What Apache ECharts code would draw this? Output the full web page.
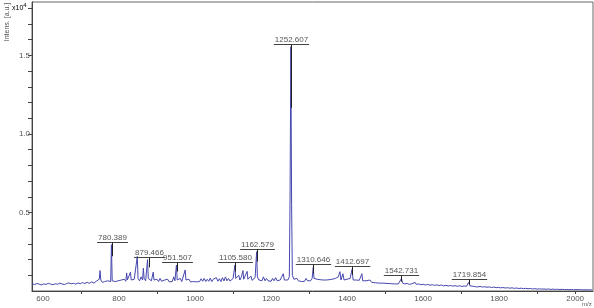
<!DOCTYPE html>
<html>
<head>
<meta charset="utf-8">
<script src="https://cdn.jsdelivr.net/npm/echarts@6/dist/echarts.min.js"></script>
<style>
html,body{margin:0;padding:0;background:#fff;}
#chart{width:594px;height:308px;}
</style>
</head>
<body>
<div id="chart"></div>
<script>
// Spectrum: [m/z, intensity (x10^4 a.u.)]
const spectrum = [
[572,.046],[578,.041],[584,.048],[590,.043],[596,.039],[602,.045],[608,.042],[614,.049],[620,.044],[626,.040],
[632,.046],[638,.043],[644,.050],[650,.045],[656,.041],[662,.047],[668,.052],[674,.046],[680,.049],[686,.044],
[692,.051],[698,.047],[704,.053],[710,.048],[716,.055],[722,.049],[728,.058],[734,.050],[740,.062],[744,.052],
[748,.075],[750,.13],[752,.07],[756,.055],[762,.06],[766,.052],[770,.065],[774,.055],[778,.06],[780,.295],
[782,.065],[786,.055],[790,.06],[794,.055],[798,.065],[802,.058],[806,.07],[810,.06],[814,.075],[818,.062],
[820,.115],[822,.07],[826,.065],[830,.12],[832,.07],[836,.06],[840,.075],[844,.065],[848,.22],[850,.08],
[854,.065],[858,.09],[862,.07],[864,.145],[866,.08],[870,.065],[875,.2],[877,.08],[881,.07],[885,.065],
[890,.12],[892,.07],[896,.06],[900,.075],[904,.06],[908,.08],[912,.062],[916,.058],[920,.07],[924,.06],
[928,.075],[932,.058],[936,.065],[940,.06],[944,.09],[947,.065],[951,.165],[953,.07],[957,.06],[961,.08],
[965,.06],[970,.07],[974,.134],[976,.07],[980,.06],[984,.075],[988,.058],[992,.07],[996,.06],[1000,.072],
[1004,.058],[1008,.07],[1012,.06],[1016,.078],[1020,.062],[1024,.08],[1028,.06],[1032,.075],[1036,.062],[1040,.082],
[1044,.06],[1048,.075],[1052,.063],[1056,.085],[1060,.062],[1064,.078],[1068,.06],[1072,.085],[1076,.064],[1080,.09],
[1084,.065],[1088,.08],[1092,.063],[1096,.075],[1100,.08],[1105,.165],[1107,.08],[1111,.07],[1115,.1],[1118,.07],
[1122,.09],[1126,.13],[1128,.075],[1132,.07],[1137,.125],[1139,.075],[1143,.07],[1147,.095],[1150,.068],[1154,.07],
[1158,.085],[1162,.25],[1164,.09],[1168,.07],[1172,.08],[1176,.065],[1180,.09],[1184,.065],[1188,.08],[1192,.065],
[1196,.075],[1200,.062],[1204,.08],[1208,.065],[1212,.085],[1216,.065],[1220,.075],[1224,.07],[1228,.09],[1232,.11],
[1235,.07],[1240,.065],[1244,.07],[1248,.09],[1250,.6],[1252,1.555],[1254,.55],[1256,.1],[1260,.075],[1264,.068],
[1268,.08],[1272,.065],[1276,.075],[1280,.06],[1284,.07],[1288,.062],[1292,.08],[1296,.065],[1300,.075],[1304,.065],
[1308,.08],[1311,.15],[1313,.08],[1317,.07],[1321,.075],[1325,.065],[1329,.072],[1333,.065],[1337,.07],[1341,.062],
[1345,.07],[1349,.065],[1353,.072],[1357,.06],[1361,.075],[1365,.065],[1369,.08],[1373,.068],[1377,.09],[1381,.123],
[1384,.07],[1389,.11],[1392,.07],[1396,.065],[1400,.075],[1404,.065],[1408,.08],[1413,.137],[1416,.07],[1420,.065],
[1424,.07],[1428,.06],[1432,.068],[1436,.07],[1439,.11],[1441,.065],[1446,.06],[1450,.065],[1455,.055],[1460,.07],
[1465,.055],[1470,.065],[1475,.052],[1480,.06],[1485,.05],[1490,.058],[1495,.05],[1500,.055],[1505,.048],[1510,.055],
[1515,.047],[1520,.052],[1525,.045],[1530,.05],[1535,.045],[1540,.055],[1543,.08],[1546,.05],[1552,.045],[1558,.048],
[1564,.042],[1570,.046],[1575,.043],[1579,.055],[1582,.042],[1588,.045],[1594,.04],[1600,.043],[1606,.038],[1612,.042],
[1618,.037],[1624,.04],[1630,.036],[1636,.039],[1642,.035],[1648,.038],[1654,.033],[1660,.036],[1666,.032],[1672,.035],
[1678,.031],[1684,.034],[1690,.03],[1696,.033],[1702,.029],[1708,.032],[1714,.03],[1717,.035],[1720,.055],[1723,.033],
[1728,.028],[1732,.03],[1738,.027],[1744,.026],[1750,.029],[1756,.025],[1762,.027],[1768,.024],[1774,.026],[1780,.022],
[1786,.025],[1792,.021],[1798,.023],[1804,.02],[1810,.022],[1816,.019],[1822,.021],[1828,.018],[1834,.02],[1840,.017],
[1846,.019],[1852,.016],[1858,.018],[1864,.015],[1870,.017],[1876,.014],[1882,.016],[1888,.013],[1894,.015],[1900,.012],
[1906,.014],[1912,.012],[1918,.013],[1924,.011],[1930,.013],[1936,.01],[1942,.012],[1948,.01],[1954,.011],[1960,.009],
[1966,.011],[1972,.009],[1978,.01],[1984,.008],[1990,.01],[1996,.008],[2002,.009],[2008,.008],[2014,.009],[2020,.007],
[2026,.008],[2032,.007],[2038,.008],[2044,.007]
];

// Annotated peaks (m/z labels)
const peakLabels = ['780.389','879.466','951.507','1105.580','1162.579','1252.607','1310.646','1412.697','1542.731','1719.854'];

// Axis ticks
const xLabelValues = [600,800,1000,1200,1400,1600,1800,2000];
const xTickValues = [700,900,1100,1300,1500,1700,1900,2000];
const yLabelValues = [0.5,1.0,1.5];
const yTickValues = [0.1,0.2,0.3,0.4,0.5,0.6,0.7,0.8,0.9,1.0,1.1,1.2,1.3,1.4,1.5,1.6,1.7,1.8];

const FONT = '"Liberation Sans", Arial, sans-serif';

// find local max intensity near each label m/z
function peakHeight(mz){
  let best = 0;
  for (const [x,y] of spectrum){ if (Math.abs(x-mz) <= 5 && y > best) best = y; }
  return best;
}
const labelData = peakLabels.map(t => [parseFloat(t), peakHeight(parseFloat(t)), t]);

const measureCtx = document.createElement('canvas').getContext('2d');
measureCtx.font = '8px ' + FONT;

const chart = echarts.init(document.getElementById('chart'), null, {renderer:'canvas'});
chart.setOption({
  animation: false,
  backgroundColor: '#fff',
  grid: {left: 32, right: 1, top: 2, bottom: 17, show: true, borderColor: '#666', borderWidth: 1, backgroundColor: 'transparent'},
  xAxis: {
    type: 'value', min: 571, max: 2047,
    axisLine: {show: true, onZero: false, lineStyle: {color: '#444', width: 1}},
    splitLine: {show: false},
    axisTick: {show: true, length: 3, customValues: xTickValues, lineStyle: {color: '#444'}},
    axisLabel: {customValues: xLabelValues, fontSize: 8, color: '#555', margin: 4, fontFamily: FONT,
      formatter: v => String(v)},
    minorTick: {show: false}
  },
  yAxis: {
    type: 'value', min: 0, max: 1.84,
    axisLine: {show: true, lineStyle: {color: '#444', width: 1}},
    splitLine: {show: false},
    axisTick: {show: true, length: 4, customValues: yTickValues, lineStyle: {color: '#444'}},
    axisLabel: {customValues: yLabelValues, fontSize: 8, color: '#555', margin: 2, fontFamily: FONT,
      formatter: v => v.toFixed(1)}
  },
  graphic: [
    {type: 'text', x: 7, y: 22, rotation: Math.PI/2, style: {text: 'Intens. [a.u.]', font: '7px ' + FONT, fill: '#555', align: 'center', verticalAlign: 'middle'}},
    {type: 'text', x: 12, y: 2, style: {text: '{a|x10}{b|4}', rich: {a: {fontSize: 7, fontFamily: FONT, color: '#444', padding: [3,0,0,0]}, b: {fontSize: 6, fontFamily: FONT, color: '#444', verticalAlign: 'top'}}}},
    {type: 'text', x: 582, y: 301, style: {text: 'm/z', font: '6px ' + FONT, fill: '#555'}}
  ],
  series: [
    {
      type: 'line', data: spectrum, showSymbol: false, symbol: 'none',
      lineStyle: {color: '#4646ae', width: 1}, smooth: false, z: 2
    },
    {
      type: 'custom', data: labelData, z: 5, clip: false,
      renderItem: function(params, api){
        const mz = api.value(0), h = api.value(1);
        const text = labelData[params.dataIndex][2];
        const p = api.coord([mz, h]);
        const z0 = api.coord([mz, 0]);
        const uy = Math.round(p[1] - 3) + 0.5;
        const w = measureCtx.measureText(text).width + 2;
        const cx = Math.round(p[0]) + 0.5;
        const stickEnd = p[1] + 0.25 * (z0[1] - p[1]);
        return {
          type: 'group',
          children: [
            {type: 'line', shape: {x1: cx - w/2, y1: uy, x2: cx + w/2, y2: uy}, style: {stroke: '#444', lineWidth: 1}},
            {type: 'line', shape: {x1: cx, y1: uy, x2: cx, y2: stickEnd}, style: {stroke: '#222', lineWidth: 1}},
            {type: 'text', x: cx, y: uy - 0.5, style: {text: text, font: '8px ' + FONT, fill: '#555', align: 'center', verticalAlign: 'bottom'}}
          ]
        };
      }
    }
  ]
});
</script>
</body>
</html>
